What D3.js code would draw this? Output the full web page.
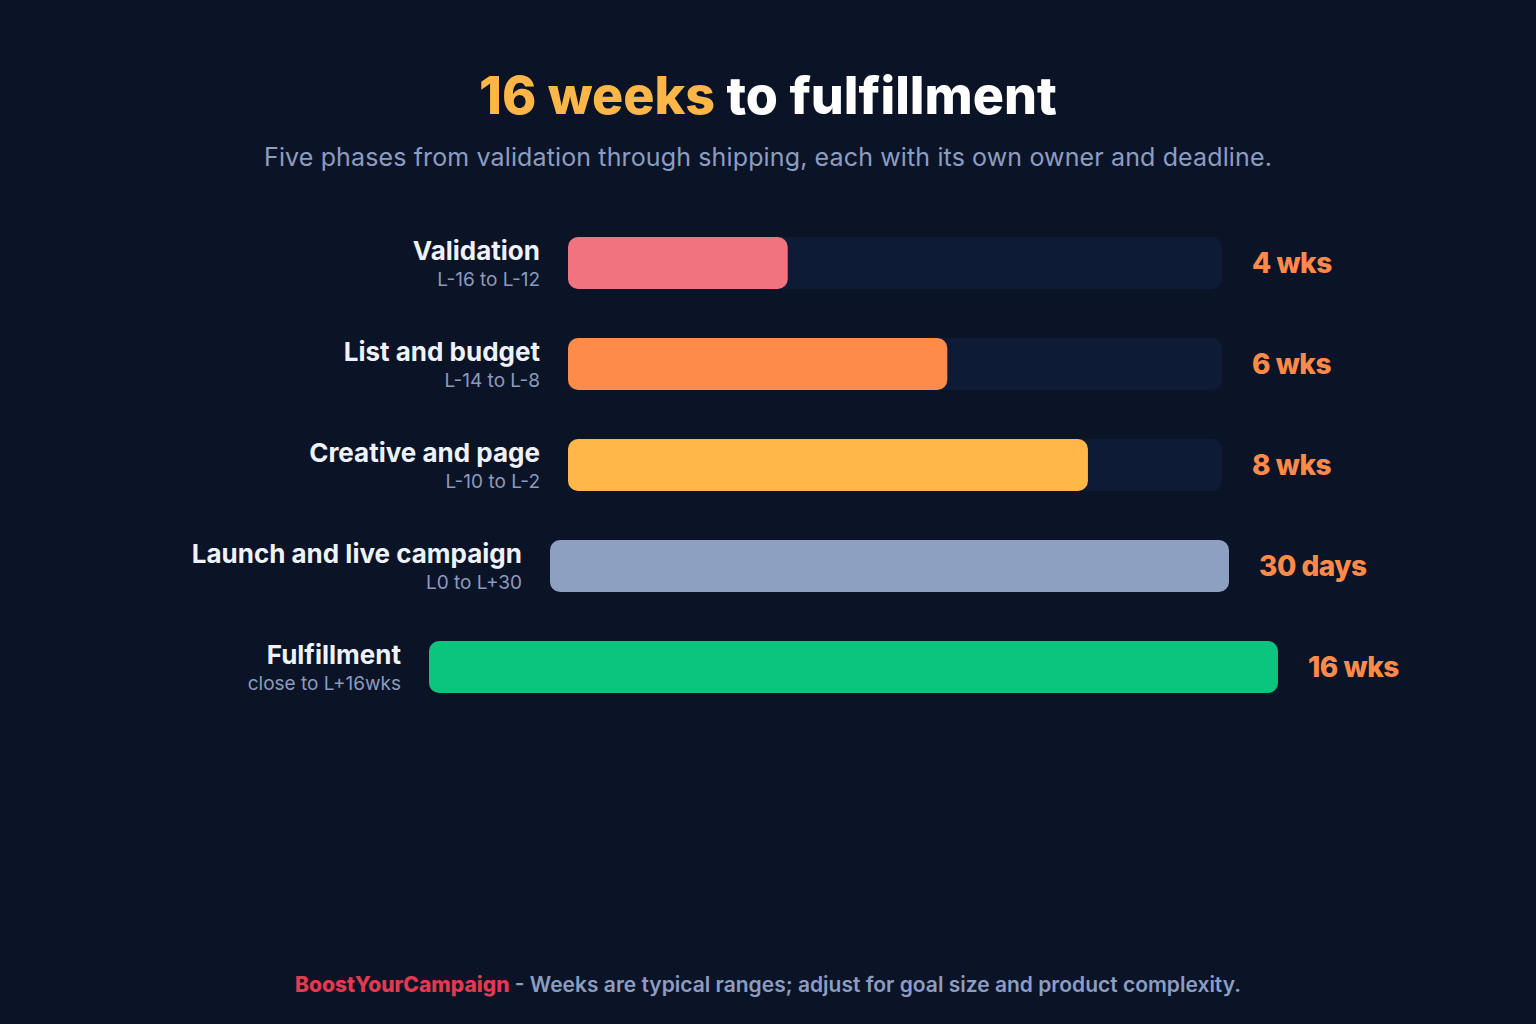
<!DOCTYPE html>
<html>
<head>
<meta charset="utf-8">
<script src="https://cdn.jsdelivr.net/npm/d3@7"></script>
<style>
  html, body { margin: 0; padding: 0; background: #0b1427; }
  svg { display: block; }
  text { font-family: Inter, "Noto Sans", sans-serif; }
</style>
</head>
<body>
<script>
// ---- data ----
const phases = ["Validation", "List and budget", "Creative and page", "Launch and live campaign", "Fulfillment"];
const ranges = ["L-16 to L-12", "L-14 to L-8", "L-10 to L-2", "L0 to L+30", "close to L+16wks"];
const durations = ["4 wks", "6 wks", "8 wks", "30 days", "16 wks"];
const fillPct = [33.6, 58.0, 79.5, 100, 100];
const colors = ["#f0737f", "#ff8b4b", "#ffb748", "#8ea0c1", "#0bc57e"];

// ---- layout ----
const W = 1536, H = 1024;
const trackX = [568, 568, 568, 550, 429];
const trackW = [654, 654, 654, 679, 849];
const rowTop = 237, rowStep = 101, barH = 52;

const svg = d3.select("body").append("svg").attr("width", W).attr("height", H);
svg.append("rect").attr("width", W).attr("height", H).attr("fill", "#0b1427");

// title
const title = svg.append("text").attr("x", W / 2).attr("y", 114)
  .attr("text-anchor", "middle").attr("font-size", 52).attr("font-weight", 800);
title.append("tspan").attr("fill", "#ffb648").text("16 weeks");
title.append("tspan").attr("fill", "#ffffff").text(" to fulfillment");

svg.append("text").attr("x", W / 2).attr("y", 166)
  .attr("text-anchor", "middle").attr("font-size", 25).attr("font-weight", 400)
  .attr("letter-spacing", "0.13px").attr("fill", "#8c9dc2")
  .text("Five phases from validation through shipping, each with its own owner and deadline.");

const y = d3.scaleBand().domain(phases).range([rowTop, rowTop + rowStep * phases.length]).paddingInner(0).paddingOuter(0);

const rows = svg.selectAll("g.row").data(phases).join("g").attr("class", "row");

rows.each(function (p, i) {
  const g = d3.select(this);
  const x = d3.scaleLinear().domain([0, 100]).range([trackX[i], trackX[i] + trackW[i]]);
  const top = y(p);
  const cy = top + barH / 2;
  // track
  g.append("rect").attr("x", x(0)).attr("y", top).attr("width", x(100) - x(0)).attr("height", barH)
    .attr("rx", 10).attr("fill", "#0e1b37");
  // fill
  g.append("rect").attr("x", x(0)).attr("y", top).attr("width", x(fillPct[i]) - x(0)).attr("height", barH)
    .attr("rx", 10).attr("fill", colors[i]);
  // labels
  g.append("text").attr("x", x(0) - 28).attr("y", cy - 3).attr("text-anchor", "end")
    .attr("font-size", 26).attr("font-weight", 700).attr("fill", "#eef2fa").text(p);
  g.append("text").attr("x", x(0) - 28).attr("y", cy + 23).attr("text-anchor", "end")
    .attr("font-size", 19).attr("font-weight", 400).attr("fill", "#8c9bbd").text(ranges[i]);
  // value
  g.append("text").attr("x", x(100) + 30).attr("y", cy + 10)
    .attr("font-size", 28).attr("font-weight", 800).attr("fill", "#ff8a4a")
    .attr("letter-spacing", "-0.5px").text(durations[i]);
});

// footer
const foot = svg.append("text").attr("x", W / 2).attr("y", 992).attr("text-anchor", "middle")
  .attr("font-size", 21).attr("font-weight", 600);
foot.append("tspan").attr("fill", "#e23a4f").attr("font-weight", 800).text("BoostYourCampaign");
foot.append("tspan").attr("fill", "#8c9dc2").text(" - Weeks are typical ranges; adjust for goal size and product complexity.");
</script>
</body>
</html>
